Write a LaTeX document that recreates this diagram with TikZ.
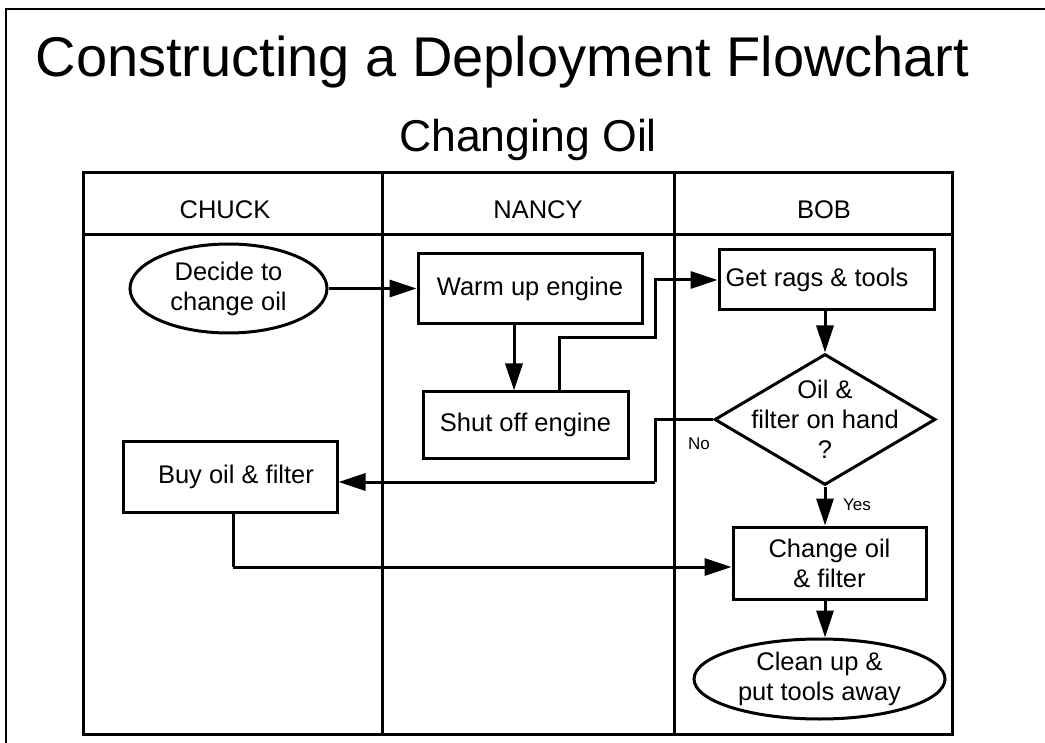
\documentclass[tikz,border=0pt]{standalone}
\usepackage{fontspec}
\setmainfont{Liberation Sans}
\usetikzlibrary{arrows.meta,shapes.geometric}
\begin{document}
\begin{tikzpicture}[x=1pt,y=-1pt,
  every node/.style={font=\fontsize{25.5pt}{30pt}\selectfont, inner sep=0pt, align=center},
  lane/.style={line width=3pt},
  stepbox/.style={draw, rectangle, line width=3pt},
  term/.style={draw, ellipse, line width=3pt},
  decision/.style={draw, diamond, line width=3pt},
  flow/.style={line width=3pt, -{Triangle[length=27pt,width=17pt]}},
  link/.style={line width=3pt},
  small/.style={font=\fontsize{17pt}{20pt}\selectfont}]

\useasboundingbox (0,0) rectangle (1045,743);

% page frame
\draw[line width=2.2pt] (6,743) -- (6,9) -- (1045,9);

% titles
\node[font=\fontsize{56pt}{60pt}\selectfont, anchor=base] (title) at (502.5,77) {Constructing a Deployment Flowchart};
\node[font=\fontsize{44.6pt}{50pt}\selectfont, anchor=base] (subtitle) at (528,152) {Changing Oil};

% swim lanes
\draw[lane] (83,173) rectangle (952,734);
\draw[lane] (83,235) -- (952,235);
\draw[lane] (382,173) -- (382,734);
\draw[lane] (674,173) -- (674,734);
\node[anchor=base] (chuck) at (225,219) {CHUCK};
\node[anchor=base] (nancy) at (538,219) {NANCY};
\node[anchor=base] (bob) at (824,219) {BOB};

% steps
\node[term, minimum width=197pt, minimum height=89pt] (decide) at (228.5,288.5) {Decide to\\change oil};
\node[stepbox, minimum width=224pt, minimum height=70pt] (warm) at (530,289) {Warm up engine};
\node[stepbox, minimum width=205pt, minimum height=66pt] (shut) at (525.5,425) {Shut off engine};
\node[stepbox, minimum width=215pt, minimum height=60pt] (getrags) at (826.5,280) {\hspace*{-19pt}Get rags \& tools};
\node[decision, minimum width=221pt, minimum height=131pt] (dec) at (825,419.5) {};
\node (dectext) at (dec.center) {Oil \&\\filter on hand\\?};
\node[stepbox, minimum width=214pt, minimum height=70pt] (buy) at (230,477) {\hspace*{12pt}Buy oil \& filter};
\node[stepbox, minimum width=193pt, minimum height=72pt] (change) at (829.5,563) {Change oil\\\& filter};
\node[term, minimum width=251pt, minimum height=80pt] (clean) at (819.5,679) {Clean up \&\\put tools away};

% bends of the routed connectors
\coordinate (jogA) at (655,338);
\coordinate (jogB) at (655,482);
\coordinate (jogC) at (233,567);

% connectors
\draw[flow] (decide.east) -- (decide.east -| warm.west);
\draw[flow] ([xshift=-16pt]warm.south) -- ([xshift=-16pt]warm.south |- shut.north);
\draw[flow] ([xshift=33.5pt]shut.north) |- (jogA) |- (getrags.west);
\draw[flow] (dec.north |- getrags.south) -- (dec.north);
\draw[link] (dec.west) -| (jogB);
\draw[flow] (jogB) -- (buy.east |- jogB);
\draw[link] (buy.south -| jogC) -- (jogC);
\draw[flow] (jogC) -- (jogC -| change.west);
\draw[flow] (dec.south) -- (dec.south |- change.north);
\draw[flow] (dec.south |- change.south) -- (dec.south |- clean.north);

% branch labels
\node[small] (nolabel) at (699,444) {No};
\node[small] (yeslabel) at (857,505) {Yes};
\end{tikzpicture}
\end{document}
